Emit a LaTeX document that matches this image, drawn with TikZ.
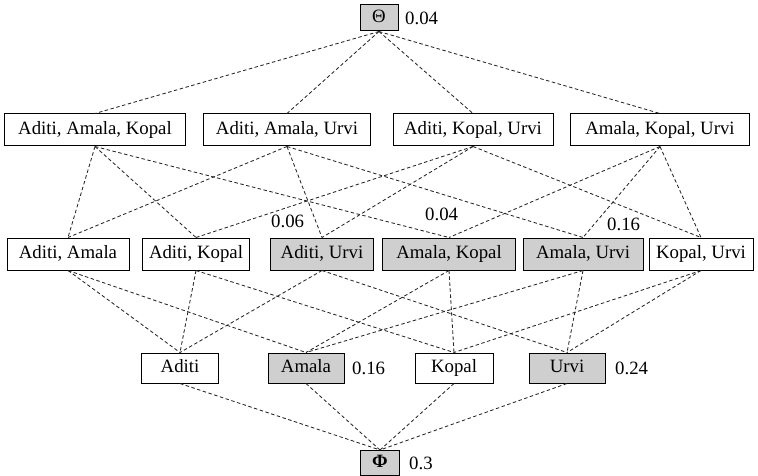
\documentclass[tikz,border=0pt]{standalone}
\usepackage{fontspec}
\setmainfont{Liberation Serif}
\begin{document}
\begin{tikzpicture}[x=1pt,y=-1pt,
  box/.style={draw=black,line width=1pt,fill=white,inner sep=1pt,minimum height=#1,text height=13pt,text depth=4pt,font=\fontsize{18.8}{20}\selectfont},
  box/.default=32,
  hi/.style={fill=black!19},
  lab/.style={inner sep=0pt,anchor=west,font=\fontsize{18.8}{20}\selectfont},
  edge/.style={draw=black!85,line width=0.85pt,dash pattern=on 3.5pt off 2.5pt}]
\useasboundingbox (0,0) rectangle (758,476);
% top and bottom
\node[box=26,hi,minimum width=38] (th) at (379,18) {Θ};
\node[lab] (thl) at (405,18) {0.04};
\node[box=25,hi,minimum width=39] (ph) at (380,463) {\textbf{Φ}};
\node[lab] (phl) at (409,463) {0.3};
% row 1
\node[box,minimum width=181] (aak) at (95,130) {Aditi, Amala, Kopal};
\node[box,minimum width=167] (aau) at (287,130) {Aditi, Amala, Urvi};
\node[box,minimum width=160] (aku) at (473,130) {Aditi, Kopal, Urvi};
\node[box,minimum width=179] (mku) at (660,130) {Amala, Kopal, Urvi};
% row 2
\node[box,minimum width=122] (aa) at (68,254) {Aditi, Amala};
\node[box,minimum width=107] (ak) at (196,254) {Aditi, Kopal};
\node[box,hi,minimum width=103] (au) at (322,254) {Aditi, Urvi};
\node[box,hi,minimum width=133] (mk) at (449,254) {Amala, Kopal};
\node[box,hi,minimum width=120] (mu) at (583,254) {Amala, Urvi};
\node[box,minimum width=104] (ku) at (701,254) {Kopal, Urvi};
\node[lab] (aul) at (271,221) {0.06};
\node[lab] (mkl) at (425,214) {0.04};
\node[lab] (mul) at (607,224) {0.16};
% row 3
\node[box=30,minimum width=77] (a) at (180,368) {Aditi};
\node[box=30,hi,minimum width=76] (m) at (306,368) {Amala};
\node[box=30,minimum width=78] (k) at (454,368) {Kopal};
\node[box=30,hi,minimum width=76] (u) at (567,368) {Urvi};
\node[lab] (ml) at (352,368) {0.16};
\node[lab] (ul) at (615,368) {0.24};
% edges
\foreach \n in {aak,aau,aku,mku} \draw[edge] (th.south) -- (\n.north);
\foreach \u/\l in {aak/aa,aak/ak,aak/mk,aau/aa,aau/au,aau/mu,aku/ak,aku/au,aku/ku,mku/mk,mku/mu,mku/ku}
  \draw[edge] (\u.south) -- (\l.north);
\foreach \u/\l in {aa/a,aa/m,ak/a,ak/k,au/a,au/u,mk/m,mk/k,mu/m,mu/u,ku/k,ku/u}
  \draw[edge] (\u.south) -- (\l.north);
\foreach \n in {a,m,k,u} \draw[edge] (\n.south) -- (ph.north);
\end{tikzpicture}
\end{document}
